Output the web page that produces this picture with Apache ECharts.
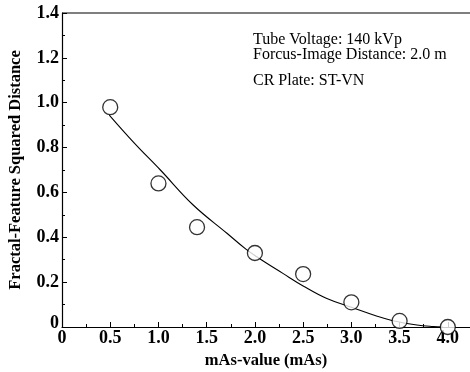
<!DOCTYPE html>
<html><head><meta charset="utf-8">
<script src="https://cdn.jsdelivr.net/npm/echarts@6/dist/echarts.min.js"></script>
<style>html,body{margin:0;padding:0;background:#fff}#c{width:470px;height:372px}</style>
</head><body><div id="c"></div>
<script>
var measX = [0.5, 1.0, 1.4, 2.0, 2.5, 3.0, 3.5, 4.0];
var measY = [0.98, 0.64, 0.445, 0.33, 0.236, 0.11, 0.027, 0.0];
var fitX = [0.49, 0.75, 1.02, 1.36, 1.71, 1.91, 2.03, 2.29, 2.5, 2.74, 3.0, 3.26, 3.43, 3.68, 3.85, 3.95];
var fitY = [0.945, 0.82, 0.70, 0.544, 0.418, 0.346, 0.31, 0.239, 0.183, 0.128, 0.088, 0.049, 0.028, 0.009, 0.002, 0.0];
var notes = ['Tube Voltage: 140 kVp', 'Forcus-Image Distance: 2.0 m', 'CR Plate: ST-VN'];
var xName = 'mAs-value (mAs)';
var yName = 'Fractal-Feature Squared Distance';

var font = 'Liberation Serif';
var chart = echarts.init(document.getElementById('c'), null, {renderer: 'canvas'});
function pairs(a, b) { return a.map(function (v, i) { return [v, b[i]]; }); }
chart.setOption({
  animation: false,
  grid: {left: 62, top: 13, right: 0, bottom: 45, containLabel: false, outerBoundsMode: 'none'},
  xAxis: {
    type: 'value', min: 0, max: 4.23, interval: 0.5,
    name: xName, nameLocation: 'middle', nameGap: 21,
    nameTextStyle: {fontFamily: font, fontSize: 16.5, fontWeight: 'bold', color: '#000', verticalAlign: 'top'},
    axisLine: {show: true, onZero: false, lineStyle: {color: '#000', width: 1.2}},
    axisTick: {inside: true, length: 5, lineStyle: {color: '#000'}},
    minorTick: {show: true, splitNumber: 2, length: 3, lineStyle: {color: '#000'}},
    splitLine: {show: false},
    axisLabel: {fontFamily: font, fontSize: 18, fontWeight: 'bold', color: '#000', margin: 2, showMaxLabel: false,
      formatter: function (v) { return v === 0 ? '0' : v.toFixed(1); }}
  },
  yAxis: {
    type: 'value', min: 0, max: 1.4, interval: 0.2,
    name: yName, nameLocation: 'middle', nameGap: 38,
    nameTextStyle: {fontFamily: font, fontSize: 16.5, fontWeight: 'bold', color: '#000'},
    axisLine: {show: true, lineStyle: {color: '#000', width: 1.2}},
    axisTick: {inside: true, length: 5, lineStyle: {color: '#000'}},
    minorTick: {show: true, splitNumber: 2, length: 3, lineStyle: {color: '#000'}},
    splitLine: {show: false},
    axisLabel: {fontFamily: font, fontSize: 18, fontWeight: 'bold', color: '#000', margin: 3,
      formatter: function (v) { return v === 0 ? '{z|0}' : v.toFixed(1); },
      rich: {z: {fontFamily: font, fontSize: 18, fontWeight: 'bold', color: '#000', padding: [0, 0, 8, 0]}}}
  },
  graphic: [
    {type: 'line', shape: {x1: 62, y1: 13, x2: 470, y2: 13}, style: {stroke: '#000', lineWidth: 1.2}},
    {type: 'text', left: 253, top: 32, style: {text: notes[0], font: '16px "Liberation Serif"', fill: '#000'}},
    {type: 'text', left: 253, top: 47, style: {text: notes[1], font: '16px "Liberation Serif"', fill: '#000'}},
    {type: 'text', left: 253, top: 73, style: {text: notes[2], font: '16px "Liberation Serif"', fill: '#000'}}
  ],
  series: [
    {type: 'line', data: pairs(fitX, fitY), smooth: 0.4, showSymbol: false, symbol: 'none',
      lineStyle: {color: '#000', width: 1.1}, z: 2},
    {type: 'scatter', data: pairs(measX, measY), symbol: 'circle', symbolSize: 15,
      itemStyle: {color: '#fff', borderColor: '#000', borderWidth: 1.3}, z: 3}
  ]
});
</script></body></html>
